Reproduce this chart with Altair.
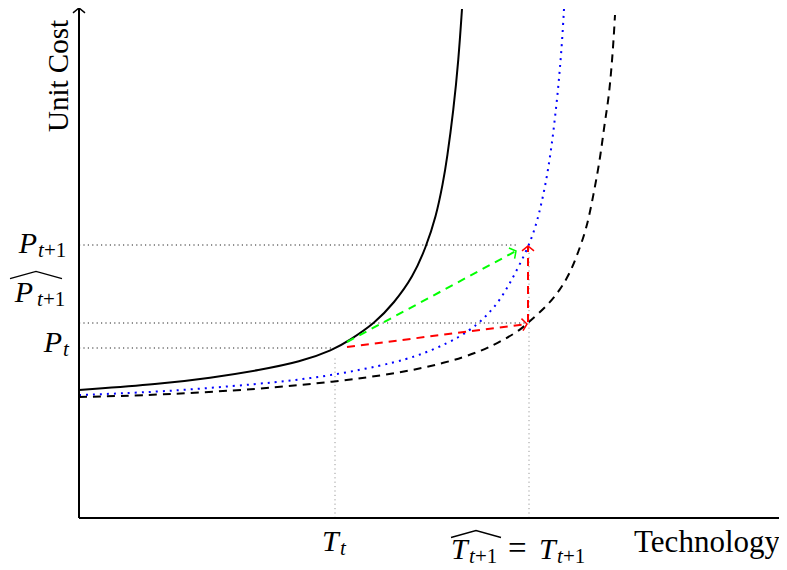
import math
import altair as alt
import pandas as pd

# ---------------- data ----------------
# x = technology, y = unit cost (arbitrary units)
solid_x = [0, 81, 131, 181, 221, 254, 271, 296, 315, 334, 347, 357, 364, 368, 374.5, 379.5, 383]
solid_y = [128, 134, 140, 148, 156, 168, 178, 195, 215, 241, 271, 301, 335, 359, 408, 458, 509]

blue_x = [0, 81, 181, 246, 321, 354, 381, 399, 410, 421, 431, 441, 451, 458, 463,
          467.5, 471, 474, 476.5, 479, 481, 483, 485]
blue_y = [123, 126, 134, 141, 156, 168, 181, 194, 205, 218, 235, 254, 275, 296, 317,
          339, 361, 383, 405, 428, 451, 475, 509]

dash_x = [0, 81, 181, 254, 321, 366, 401, 428, 441, 451, 468, 481, 491, 499, 508,
          514, 521, 526, 530, 534, 536]
dash_y = [121, 123, 129, 136, 145, 155, 166, 180, 188, 197, 212, 228, 245, 265, 291,
          321, 358, 398, 421, 468, 503]

T_t, T_next = 256, 450
P_t, P_hat, P_next = 170, 195, 273
x_max, y_max = 700, 510

# guide line extents
h_guide_y = [P_t, P_hat, P_next]
h_guide_end = [252, 449, 437]
v_guide_x = [T_t, T_next]
v_guide_end = [160, 270]

# arrows: from (x1, y1) to (x2, y2)
arrow_x1 = [268, 268, 449]
arrow_y1 = [176, 171, 196]
arrow_x2 = [437, 448, 449]
arrow_y2 = [267, 194, 272]
arrow_col = ["#00ff00", "#ff0000", "#ff0000"]

FONT = "Liberation Serif"

xs = alt.Scale(domain=[0, x_max], nice=False, zero=False)
ys = alt.Scale(domain=[0, y_max], nice=False, zero=False)


def X(f):
    return alt.X(f, type="quantitative", scale=xs, axis=None)


def Y(f):
    return alt.Y(f, type="quantitative", scale=ys, axis=None)


layers = []

# guides
hg = pd.DataFrame({"x": [0] * 3, "x2": h_guide_end, "y": h_guide_y, "y2": h_guide_y})
layers.append(alt.Chart(hg).mark_rule(color="#222222", strokeWidth=1, strokeDash=[1.2, 3.2])
              .encode(x=X("x"), x2="x2", y=Y("y"), y2="y2"))
vg = pd.DataFrame({"x": v_guide_x, "x2": v_guide_x, "y": [0, 0], "y2": v_guide_end})
layers.append(alt.Chart(vg).mark_rule(color="#999999", strokeWidth=1, strokeDash=[1.2, 3.2])
              .encode(x=X("x"), x2="x2", y=Y("y"), y2="y2"))

# curves
layers.append(alt.Chart(pd.DataFrame({"x": solid_x, "y": solid_y}))
              .mark_line(interpolate="basis", color="black", strokeWidth=2)
              .encode(x=X("x"), y=Y("y")))
layers.append(alt.Chart(pd.DataFrame({"x": blue_x, "y": blue_y}))
              .mark_line(interpolate="basis", color="#0000ff", strokeWidth=2, strokeDash=[2, 5])
              .encode(x=X("x"), y=Y("y")))
layers.append(alt.Chart(pd.DataFrame({"x": dash_x, "y": dash_y}))
              .mark_line(interpolate="basis", color="black", strokeWidth=2, strokeDash=[8, 6])
              .encode(x=X("x"), y=Y("y")))

# arrows
ar = pd.DataFrame({"x": arrow_x1, "y": arrow_y1, "x2": arrow_x2, "y2": arrow_y2, "c": arrow_col})
layers.append(alt.Chart(ar).mark_rule(strokeWidth=2, strokeDash=[8, 6])
              .encode(x=X("x"), x2="x2", y=Y("y"), y2="y2", color=alt.Color("c:N", scale=None)))

heads = pd.DataFrame({
    "x": arrow_x2 + [0],
    "y": arrow_y2 + [y_max],
    "c": arrow_col + ["black"],
    "a": [(math.degrees(math.atan2(-(b2 - b1), a2 - a1)) % 360)
          for a1, b1, a2, b2 in zip(arrow_x1, arrow_y1, arrow_x2, arrow_y2)] + [270],
})
CHEVRON = "M -0.8 -1 L 0 0 L -0.8 1"
layers.append(alt.Chart(heads).mark_point(shape=CHEVRON, size=144, filled=False, strokeWidth=1.5, opacity=1)
              .encode(x=X("x"), y=Y("y"), color=alt.Color("c:N", scale=None), angle=alt.Angle("a:Q", scale=None)))

# axes
ax = pd.DataFrame({"x": [0, 0], "x2": [0, x_max], "y": [0, 0], "y2": [y_max, 0]})
layers.append(alt.Chart(ax).mark_rule(color="black", strokeWidth=2)
              .encode(x=X("x"), x2="x2", y=Y("y"), y2="y2"))


# labels
def txt(text, ax_, ay_, dx, dy, size=30, italic=True, align="left"):
    return (alt.Chart(pd.DataFrame({"x": [ax_], "y": [ay_]}))
            .mark_text(text=text, font=FONT, fontSize=size,
                       fontStyle="italic" if italic else "normal",
                       align=align, baseline="alphabetic", dx=dx, dy=dy, color="black")
            .encode(x=X("x"), y=Y("y")))


HAT = "M -1 0.14 L 0 -0.14 L 1 0.14"


def hat(ax_, ay_, xo, yo, half):
    return (alt.Chart(pd.DataFrame({"x": [ax_], "y": [ay_]}))
            .mark_point(shape=HAT, size=(2 * half) ** 2, filled=False, strokeWidth=1.3,
                        color="black", opacity=1, xOffset=xo, yOffset=yo)
            .encode(x=X("x"), y=Y("y")))


SUB = 21
# P_{t+1}
layers += [txt("P", 0, P_next, -42, 8, align="right"),
           txt("t", 0, P_next, -41, 12, size=SUB),
           txt("+1", 0, P_next, -35, 12, size=SUB, italic=False)]
# hat P_{t+1}
layers += [txt("P", 0, P_hat, -46, -21, align="right"),
           txt("t", 0, P_hat, -42, -17, size=SUB),
           txt("+1", 0, P_hat, -36, -17, size=SUB, italic=False),
           hat(0, P_hat, -43, -48, 26)]
# P_t
layers += [txt("P", 0, P_t, -17, 4, align="right"),
           txt("t", 0, P_t, -16, 8, size=SUB)]
# T_t
layers += [txt("T", T_t, 0, -13, 33),
           txt("t", T_t, 0, 5, 37, size=SUB)]
# hat T_{t+1} = T_{t+1}
layers += [txt("T", T_next, 0, -78, 41),
           txt("t", T_next, 0, -60, 45, size=SUB),
           txt("+1", T_next, 0, -54, 45, size=SUB, italic=False),
           hat(T_next, 0, -53, 16, 25),
           txt("=", T_next, 0, -21, 41, size=33, italic=False),
           txt("T", T_next, 0, 10, 41),
           txt("t", T_next, 0, 28, 45, size=SUB),
           txt("+1", T_next, 0, 34, 45, size=SUB, italic=False)]

# axis titles
layers.append(alt.Chart(pd.DataFrame({"t": ["Technology"]}))
              .mark_text(font=FONT, fontSize=31, align="right", baseline="alphabetic", color="black")
              .encode(text="t:N", x=alt.value(701), y=alt.value(544)))
layers.append(alt.Chart(pd.DataFrame({"t": ["Unit Cost"]}))
              .mark_text(font=FONT, fontSize=29, align="center", baseline="middle", angle=270, color="black")
              .encode(text="t:N", x=alt.value(-20), y=alt.value(68)))

chart = (alt.layer(*layers)
         .properties(width=700, height=510,
                     autosize=alt.AutoSizeParams(type="none"),
                     padding={"left": 71, "top": 0, "right": 0, "bottom": 52})
         .configure_view(stroke=None))

chart.save("out.html", embed_options={"renderer": "svg", "actions": False})
